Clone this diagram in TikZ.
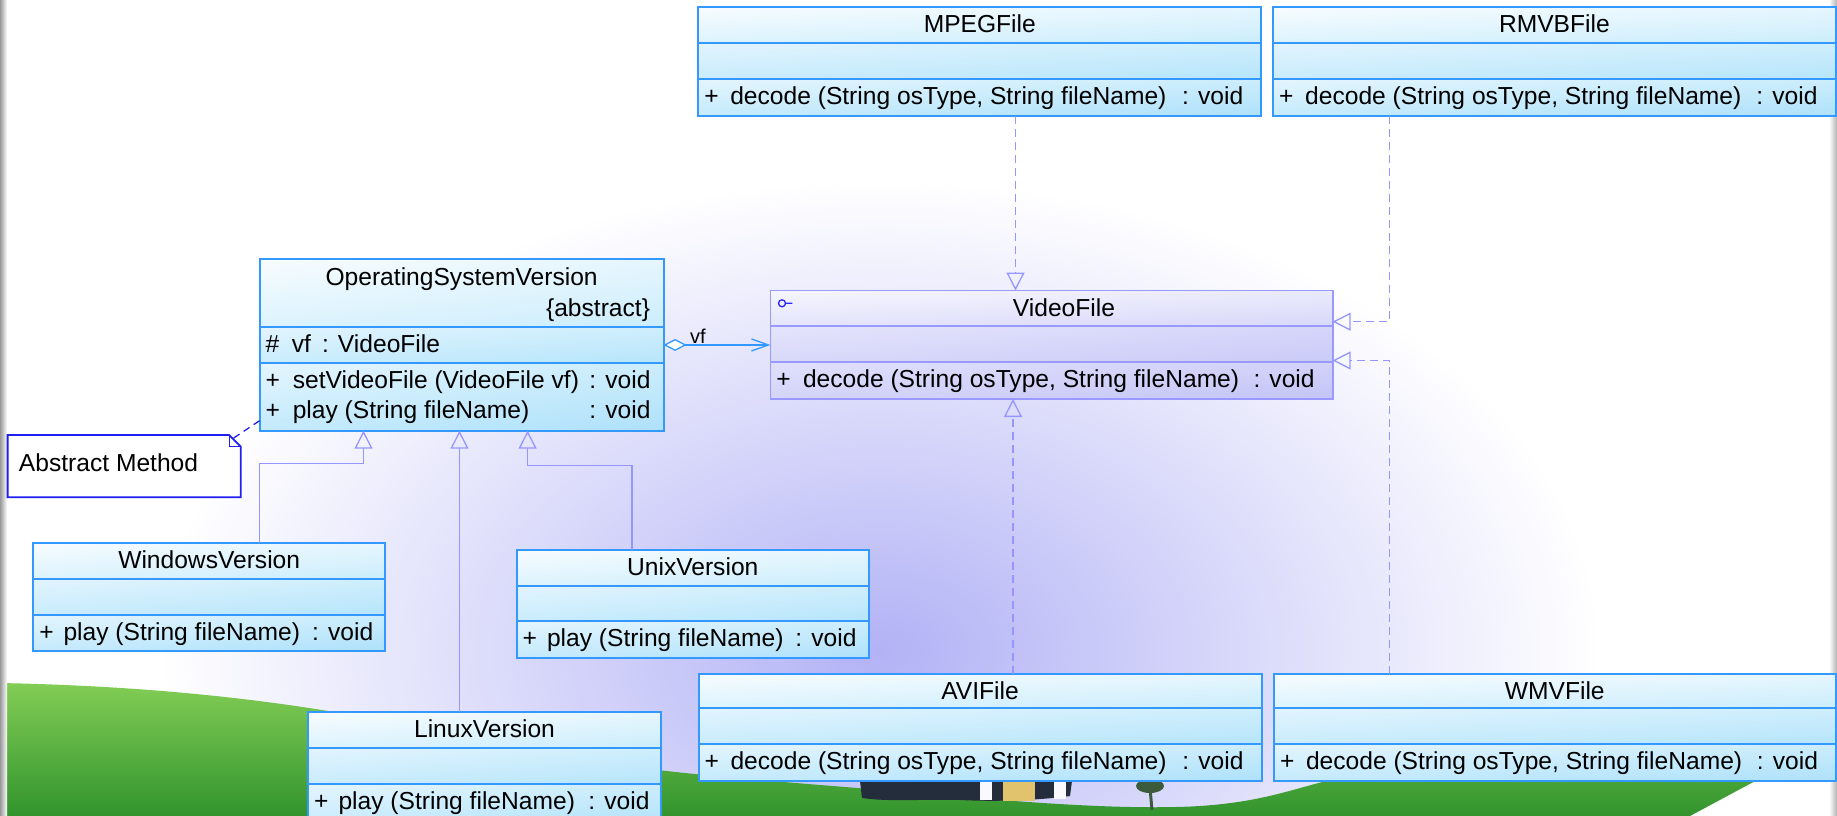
\documentclass[tikz,border=0pt]{standalone}
\usepackage{fontspec}
\setmainfont{Liberation Sans}
\usetikzlibrary{arrows.meta,shadings}
\definecolor{clsb}{RGB}{51,153,255}
\definecolor{ifb}{RGB}{153,153,255}
\definecolor{genc}{RGB}{150,150,255}
\definecolor{noteb}{RGB}{30,30,240}
\definecolor{iconc}{RGB}{40,40,255}
\definecolor{lavA}{RGB}{178,178,246}
\definecolor{lavB}{RGB}{212,212,250}
\definecolor{grassT}{RGB}{130,205,85}
\definecolor{grassB}{RGB}{50,148,45}
\definecolor{treeD}{RGB}{35,45,60}
\definecolor{treeG}{RGB}{60,90,60}
\definecolor{houseY}{RGB}{225,195,110}
% class compartments
\definecolor{chUL}{HTML}{F7FCFF}\definecolor{chUR}{HTML}{E6F6FE}\definecolor{chLL}{HTML}{DCF3FD}\definecolor{chLR}{HTML}{CBEDFC}
\definecolor{caUL}{HTML}{E2F4FE}\definecolor{caUR}{HTML}{CFEEFC}\definecolor{caLL}{HTML}{C9ECFC}\definecolor{caLR}{HTML}{B6E5FB}
\definecolor{coUL}{HTML}{E4F5FE}\definecolor{coUR}{HTML}{CCEDFC}\definecolor{coLL}{HTML}{C4EAFC}\definecolor{coLR}{HTML}{AEE1FA}
% interface compartments
\definecolor{ihUL}{HTML}{F6F6FE}\definecolor{ihUR}{HTML}{EAEAFC}\definecolor{ihLL}{HTML}{E4E4FC}\definecolor{ihLR}{HTML}{D8D8FA}
\definecolor{iaUL}{HTML}{E4E4FC}\definecolor{iaUR}{HTML}{D6D6FA}\definecolor{iaLL}{HTML}{D8D8FA}\definecolor{iaLR}{HTML}{CACAF8}
\definecolor{ioUL}{HTML}{E0E0FC}\definecolor{ioUR}{HTML}{D2D2F9}\definecolor{ioLL}{HTML}{D4D4FA}\definecolor{ioLR}{HTML}{C4C4F7}
\pgfdeclareradialshading{glow}{\pgfpoint{0bp}{0bp}}{color(0bp)=(lavA); color(11bp)=(lavB); color(25bp)=(white); color(50bp)=(white)}

\newcommand\ucomp[8]{\shade[upper left=#5, upper right=#6, lower left=#7, lower right=#8] (#1,#2) rectangle (#3,#4);}
% name, x1, y1, x2, y2, s1, s2, kind (c / i)
\newcommand\uclass[8]{%
  \ucomp{#2}{#3}{#4}{#6}{#8hUL}{#8hUR}{#8hLL}{#8hLR}
  \ucomp{#2}{#6}{#4}{#7}{#8aUL}{#8aUR}{#8aLL}{#8aLR}
  \ucomp{#2}{#7}{#4}{#5}{#8oUL}{#8oUR}{#8oLL}{#8oLR}
  \node[boxnode, minimum width={(#4-#2)*1pt}, minimum height={(#5-#3)*1pt}, anchor=north west] (#1) at (#2,#3) {};
  \draw[#8border] (#2,#6) -- (#4,#6) (#2,#7) -- (#4,#7);
  \draw[#8border] (#1.north west) rectangle (#1.south east);
}

\begin{document}
\begin{tikzpicture}[x=1pt,y=-1pt,
  every node/.style={font=\fontsize{24.6}{28}\selectfont, inner sep=0pt, outer sep=0pt, text=black},
  boxnode/.style={draw=none, fill=none},
  cborder/.style={draw=clsb, line width=2pt},
  iborder/.style={draw=ifb, line width=1.8pt},
  gen/.style={draw=genc, line width=1.3pt, -{Triangle[open, length=18pt, width=18pt]}},
  real/.style={gen, dash pattern=on 8pt off 5pt},
  assoc/.style={draw=clsb, line width=1.3pt, {Diamond[open, fill=white, length=23pt, width=12pt]}-{Straight Barb[length=17pt, width=12pt]}},
  notebox/.style={draw=noteb, line width=1.8pt, fill=white},
  notelink/.style={draw=noteb, line width=1.3pt, dash pattern=on 7pt off 5pt},
  lbl/.style={font=\fontsize{20}{24}\selectfont},
  nm/.style={anchor=base},
  lt/.style={anchor=base west},
  rt/.style={anchor=base east},
]
\useasboundingbox (0,0) rectangle (1837,816);
\clip (0,0) rectangle (1837,816);

% ---------- background ----------
\fill[white] (0,0) rectangle (1837,816);
\shade[shading=glow] (880,650) ellipse [x radius=720pt, y radius=470pt];
\shade[top color=grassT, bottom color=grassB]
  (0,683) .. controls (150,686) and (300,700) .. (450,735)
  .. controls (600,768) and (700,775) .. (820,785)
  .. controls (950,795) and (1100,812) .. (1200,806)
  .. controls (1260,802) and (1290,790) .. (1330,780)
  .. controls (1500,768) and (1650,768) .. (1772,772)
  -- (1690,816) -- (0,816) -- cycle;
\fill[treeD] (860,781) -- (1072,781) -- (1070,796) .. controls (1040,800) and (1000,802) .. (960,800)
  .. controls (920,799) and (890,802) .. (862,798) -- cycle;
\fill[houseY] (1003,781) rectangle (1035,801);
\fill[white!85!lavB] (980,781) rectangle (992,800);
\fill[white!85!lavB] (1054,781) rectangle (1066,799);
\fill[treeG] (1150,786) ellipse [x radius=14pt, y radius=7pt];
\draw[treeG, line width=3pt] (1150,788) -- (1152,810);
\shade[left color=black!40, right color=white] (0,0) rectangle (7,816);
\shade[left color=white, right color=black!30] (1829,0) rectangle (1837,816);

% ---------- classes ----------
\uclass{mpeg}{698.3}{7.3}{1261.2}{116.3}{43.3}{79.3}{c}
\uclass{rmvb}{1273.2}{7.3}{1835.5}{116.3}{43.3}{79.3}{c}
\uclass{osv}{259.6}{259.2}{663.6}{430.7}{327.3}{363.3}{c}
\uclass{vfile}{770.4}{290.5}{1332.6}{399}{326}{362}{i}
\uclass{win}{33.3}{542.7}{385}{650.7}{579}{615}{c}
\uclass{unix}{516.5}{549.5}{869}{658.3}{585.5}{621.3}{c}
\uclass{lin}{308}{712.3}{661}{830}{748.3}{784}{c}
\uclass{avi}{698.5}{673.7}{1261.5}{781}{708.3}{744}{c}
\uclass{wmv}{1274}{673.7}{1835.5}{781}{708.3}{744}{c}

% interface icon
\draw[iconc, line width=1.3pt] (782,303.3) circle [radius=3.5pt] (785.5,303.3) -- (792.3,303.3);

% ---------- texts ----------
\node[nm] (mpegN) at (979.8,32.8) {MPEGFile};
\node[lt] (mpegP) at (704.3,104.8) {+};
\node[lt] (mpegO) at (730.3,104.8) {decode (String osType, String fileName)};
\node[rt] (mpegV) at (1243.2,104.8) {: void};

\node[nm] (rmvbN) at (1554.4,32.8) {RMVBFile};
\node[lt] (rmvbP) at (1279.2,104.8) {+};
\node[lt] (rmvbO) at (1305.2,104.8) {decode (String osType, String fileName)};
\node[rt] (rmvbV) at (1817.5,104.8) {: void};

\node[nm] (osvN) at (461.6,285) {OperatingSystemVersion};
\node[rt] (osvA) at (650,316.7) {\{abstract\}};
\node[lt] (osvH) at (265.6,352.7) {\#};
\node[lt] (osvF) at (291.9,352.7) {vf\hspace{11pt}: VideoFile};
\node[lt] (osvP1) at (265.6,388.3) {+};
\node[lt] (osvO1) at (292.8,388.3) {setVideoFile (VideoFile vf)};
\node[rt] (osvV1) at (650.5,388.3) {: void};
\node[lt] (osvP2) at (265.6,418.3) {+};
\node[lt] (osvO2) at (292.8,418.3) {play (String fileName)};
\node[rt] (osvV2) at (650.5,418.3) {: void};

\node[nm] (vfN) at (1064,316) {VideoFile};
\node[lt] (vfP) at (776.4,387.5) {+};
\node[lt] (vfO) at (803,387.5) {decode (String osType, String fileName)};
\node[rt] (vfV) at (1314.6,387.5) {: void};

\node[nm] (winN) at (209.2,568.2) {WindowsVersion};
\node[lt] (winP) at (39.3,640.5) {+};
\node[lt] (winO) at (63.5,640.5) {play (String fileName)};
\node[rt] (winV) at (373.3,640.5) {: void};

\node[nm] (unixN) at (692.75,575) {UnixVersion};
\node[lt] (unixP) at (522.5,646.8) {+};
\node[lt] (unixO) at (547,646.8) {play (String fileName)};
\node[rt] (unixV) at (856.5,646.8) {: void};

\node[nm] (linN) at (484.5,737.8) {LinuxVersion};
\node[lt] (linP) at (314,809.5) {+};
\node[lt] (linO) at (338.5,809.5) {play (String fileName)};
\node[rt] (linV) at (649.5,809.5) {: void};

\node[nm] (aviN) at (980,699.2) {AVIFile};
\node[lt] (aviP) at (704.5,769.5) {+};
\node[lt] (aviO) at (730.5,769.5) {decode (String osType, String fileName)};
\node[rt] (aviV) at (1243.5,769.5) {: void};

\node[nm] (wmvN) at (1554.75,699.2) {WMVFile};
\node[lt] (wmvP) at (1280,769.5) {+};
\node[lt] (wmvO) at (1306,769.5) {decode (String osType, String fileName)};
\node[rt] (wmvV) at (1818,769.5) {: void};

% ---------- note ----------
\node[boxnode, minimum width=233.1pt, minimum height=62.3pt, anchor=north west] (note) at (7.6,435) {};
\draw[notebox] (note.north west) -- ([xshift=-11.5pt]note.north east) -- ([yshift=-11.5pt]note.north east) -- (note.south east) -- (note.south west) -- cycle;
\draw[draw=noteb, line width=1.3pt] ([xshift=-11.5pt]note.north east) -- ([xshift=-11.5pt,yshift=-11.5pt]note.north east) -- ([yshift=-11.5pt]note.north east);
\node[lt] (noteT) at (19,471.5) {Abstract Method};
\draw[notelink] ([xshift=-7pt,yshift=-3pt]note.north east) -- ([yshift=10pt]osv.south west);

% ---------- connectors ----------
\draw[assoc] (osv.east) -- (vfile.west |- osv.east);
\node[lbl, lt] (vfl) at (690,343.3) {vf};

\coordinate (wb) at (363.5,463.5);
\draw[gen] (win.north -| osv.west) |- (wb) -- (wb |- osv.south);
\coordinate (lx) at (459.5,0);
\draw[gen] (lin.north -| lx) -- (lx |- osv.south);
\coordinate (ub) at (527.6,465.7);
\coordinate (ux) at (632,0);
\draw[gen] (unix.north -| ux) |- (ub) -- (ub |- osv.south);

\coordinate (mx) at (1015.5,0);
\draw[real] (mpeg.south -| mx) -- (mx |- vfile.north);
\coordinate (ax) at (1013,0);
\draw[real] (avi.north -| ax) -- (ax |- vfile.south);
\coordinate (r1) at (1389.3,321.7);
\draw[real] (rmvb.south -| r1) -- (r1) -- (vfile.east |- r1);
\coordinate (w1) at (1389.3,360.5);
\draw[real] (wmv.north -| w1) -- (w1) -- (vfile.east |- w1);
\end{tikzpicture}
\end{document}
